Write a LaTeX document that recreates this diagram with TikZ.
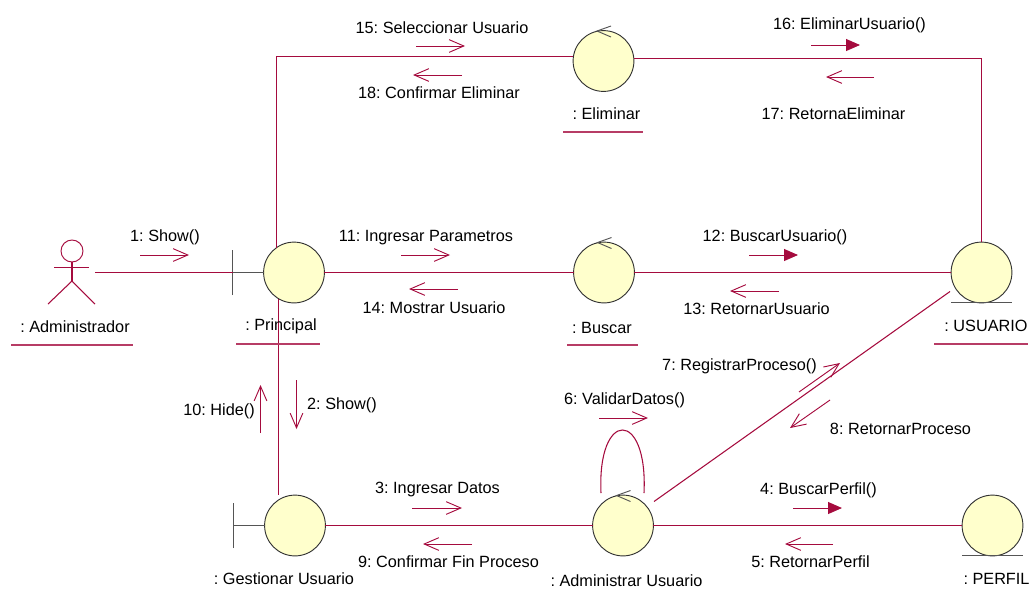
\documentclass[tikz,border=0pt]{standalone}
\usepackage{fontspec}
\setmainfont{Liberation Sans}
\usepackage{xcolor}
\usetikzlibrary{arrows.meta, positioning, calc}
\definecolor{umlline}{HTML}{A50B3E}
\definecolor{umlfill}{HTML}{FFFFCC}
\definecolor{umlgray}{HTML}{555555}
\tikzset{
    object/.style={
        circle,
        draw=black!80,
        line width=0.7pt,
        minimum size=45.6pt,
        inner sep=0pt,
        outer sep=0pt,
        fill=umlfill
    },
    link/.style={
        draw=umlline,
        line width=0.8pt
    },
    msgopen/.style={
        draw=umlline,
        line width=0.7pt,
        -{Straight Barb[length=11pt,width=9.5pt]}
    },
    msgfull/.style={
        draw=umlline,
        line width=0.7pt,
        -{Triangle[length=10.5pt,width=9pt,fill=umlline]}
    },
    stereo/.style={
        draw=umlgray,
        line width=0.7pt
    },
    umltext/.style={
        font=\fontsize{12.2}{14}\selectfont,
        inner sep=0pt
    },
    nameline/.style={
        draw=umlline!80,
        line width=0.8pt
    }
}
\newcommand{\controlmark}[1]{%
    \draw[stereo] ([shift={(7.5,-35)}]#1.center) -- ([shift={(-6.5,-30)}]#1.center) -- ([shift={(7.5,-24)}]#1.center);}

\begin{document}
\frenchspacing
\begin{tikzpicture}[x=0.75pt, y=-0.75pt]
\useasboundingbox (0,0) rectangle (1030,594);

% Objects
\node[object] (principal) at (294,272.5) {};
\node[object] (gestionar) at (295,525.5) {};
\node[object] (eliminar) at (603.5,61) {};
\node[object] (buscar) at (604,272.5) {};
\node[object] (administrar) at (623,525.5) {};
\node[object] (usuario) at (981.5,272.5) {};
\node[object] (perfil) at (992.5,525.5) {};

% Stereotype marks
\coordinate (principalbar) at (232.5,272.5);
\coordinate (gestionarbar) at (233.5,525.5);
\draw[stereo] (principal.west) -- (principalbar);
\draw[stereo] ([yshift=-17]principalbar) -- ([yshift=17]principalbar);
\draw[stereo] (gestionar.west) -- (gestionarbar);
\draw[stereo] ([yshift=-17]gestionarbar) -- ([yshift=17]gestionarbar);
\controlmark{eliminar}
\controlmark{buscar}
\controlmark{administrar}
\draw[stereo] (usuario.west |- usuario.south) -- (usuario.east |- usuario.south);
\draw[stereo] (perfil.west |- perfil.south) -- (perfil.east |- perfil.south);

% Actor
\node[circle, draw=umlline, line width=0.7pt, minimum size=16.5pt, inner sep=0pt, outer sep=0pt] (actorhead) at (72,251) {};
\coordinate (actorhip) at (72,281);
\coordinate (actorleft) at (48,304);
\coordinate (actorright) at (95,304);
\coordinate (actorarma) at (54,267.5);
\coordinate (actorarmb) at (89,267.5);
\draw[link] (actorhead.south) -- (actorhip);
\draw[link] (actorarma) -- (actorarmb);
\draw[link] (actorleft) -- (actorhip) -- (actorright);

% Links
\coordinate (actorend) at (95,272.5);
\coordinate (diaga) at (654,501.5);
\coordinate (diagb) at (950,291.5);
\coordinate (loopa) at (601,493);
\coordinate (loopb) at (644,493);
\coordinate (loopc) at (597,409);
\coordinate (loopd) at (648,409);
\draw[link] (actorend) -- (principalbar);
\draw[link] (principal.east) -- (buscar.west);
\draw[link] (buscar.east) -- (usuario.west);
\draw[link] (principal.125) |- (eliminar.172);
\draw[link] (eliminar.5) -| (usuario.north);
\draw[link] (principal.239) -- (principal.239 |- gestionar.north);
\draw[link] (gestionar.east) -- (administrar.west);
\draw[link] (administrar.east) -- (perfil.west);
\draw[link] (diaga) -- (diagb);
\draw[link] (loopa) .. controls (loopc) and (loopd) .. (loopb);

% Object names
\node[umltext] (adminlabel) at (75,327) {: Administrador};
\node[umltext] (principallabel) at (281,326) {: Principal};
\node[umltext] (eliminarlabel) at (606.5,113.5) {: Eliminar};
\node[umltext] (buscarlabel) at (602,327.5) {: Buscar};
\node[umltext] (usuariolabel) at (986,325.5) {: USUARIO};
\node[umltext] (gestionarlabel) at (284,578.5) {: Gestionar Usuario};
\node[umltext] (administrarlabel) at (626.5,581) {: Administrar Usuario};
\node[umltext] (perfillabel) at (996.5,579) {: PERFIL};

\coordinate (ula) at (11,345); \coordinate (ulb) at (133,345);
\coordinate (ulc) at (236,344); \coordinate (uld) at (320,344);
\coordinate (ule) at (563,132); \coordinate (ulf) at (643,132);
\coordinate (ulg) at (567,345); \coordinate (ulh) at (638,345);
\coordinate (uli) at (934,344); \coordinate (ulj) at (1028,344);
\draw[nameline] (ula) -- (ulb);
\draw[nameline] (ulc) -- (uld);
\draw[nameline] (ule) -- (ulf);
\draw[nameline] (ulg) -- (ulh);
\draw[nameline] (uli) -- (ulj);

% Messages
\node[umltext] (m1) at (165,237.5) {1: Show()};
\coordinate (m1a) at (140,255); \coordinate (m1b) at (189,255);
\draw[msgopen] (m1a) -- (m1b);

\node[umltext] (m2) at (342,405) {2: Show()};
\coordinate (m2a) at (296.5,380); \coordinate (m2b) at (296.5,429);
\draw[msgopen] (m2a) -- (m2b);

\node[umltext] (m3) at (437.5,489.5) {3: Ingresar Datos};
\coordinate (m3a) at (412,508); \coordinate (m3b) at (462,508);
\draw[msgopen] (m3a) -- (m3b);

\node[umltext] (m4) at (818.5,490) {4: BuscarPerfil()};
\coordinate (m4a) at (793,508); \coordinate (m4b) at (842,508);
\draw[msgfull] (m4a) -- (m4b);

\node[umltext] (m5) at (810.5,562) {5: RetornarPerfil};
\coordinate (m5a) at (833,544); \coordinate (m5b) at (785,544);
\draw[msgopen] (m5a) -- (m5b);

\node[umltext] (m6) at (624.5,400.5) {6: ValidarDatos()};
\coordinate (m6a) at (599,418); \coordinate (m6b) at (648,418);
\draw[msgopen] (m6a) -- (m6b);

\node[umltext] (m7) at (739.5,366) {7: RegistrarProceso()};
\coordinate (m7a) at (799,392); \coordinate (m7b) at (840,363);
\draw[msgopen] (m7a) -- (m7b);

\node[umltext] (m8) at (900.5,428.5) {8: RetornarProceso};
\coordinate (m8a) at (830,400); \coordinate (m8b) at (790,428);
\draw[msgopen] (m8a) -- (m8b);

\node[umltext] (m9) at (448.5,561.5) {9: Confirmar Fin Proceso};
\coordinate (m9a) at (472,544); \coordinate (m9b) at (423,544);
\draw[msgopen] (m9a) -- (m9b);

\node[umltext] (m10) at (219,411) {10: Hide()};
\coordinate (m10a) at (260.5,433); \coordinate (m10b) at (260.5,385);
\draw[msgopen] (m10a) -- (m10b);

\node[umltext] (m11) at (426,237.5) {11: Ingresar Parametros};
\coordinate (m11a) at (401,255); \coordinate (m11b) at (450,255);
\draw[msgopen] (m11a) -- (m11b);

\node[umltext] (m12) at (775,237) {12: BuscarUsuario()};
\coordinate (m12a) at (749,255); \coordinate (m12b) at (798,255);
\draw[msgfull] (m12a) -- (m12b);

\node[umltext] (m13) at (756.5,308.5) {13: RetornarUsuario};
\coordinate (m13a) at (779,291); \coordinate (m13b) at (730,291);
\draw[msgopen] (m13a) -- (m13b);

\node[umltext] (m14) at (434,307.5) {14: Mostrar Usuario};
\coordinate (m14a) at (458,289); \coordinate (m14b) at (409,289);
\draw[msgopen] (m14a) -- (m14b);

\node[umltext] (m15) at (442,28) {15: Seleccionar Usuario};
\coordinate (m15a) at (416,46); \coordinate (m15b) at (465,46);
\draw[msgopen] (m15a) -- (m15b);

\node[umltext] (m16) at (849.5,25) {16: EliminarUsuario()};
\coordinate (m16a) at (811,45); \coordinate (m16b) at (860,45);
\draw[msgfull] (m16a) -- (m16b);

\node[umltext] (m17) at (833.5,113.5) {17: RetornaEliminar};
\coordinate (m17a) at (874,77); \coordinate (m17b) at (826,77);
\draw[msgopen] (m17a) -- (m17b);

\node[umltext] (m18) at (439,93) {18: Confirmar Eliminar};
\coordinate (m18a) at (462,75); \coordinate (m18b) at (413,75);
\draw[msgopen] (m18a) -- (m18b);

\end{tikzpicture}
\end{document}
